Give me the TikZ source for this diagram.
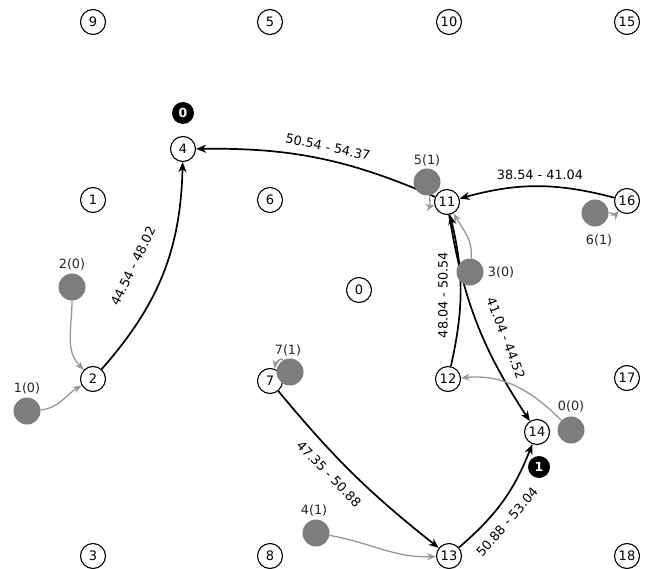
\documentclass[tikz,border=0pt]{standalone}
\usepackage{fontspec}
\setmainfont{DejaVu Sans}
\usetikzlibrary{arrows.meta}
\pgfdeclarelayer{bg}
\pgfsetlayers{bg,main}
\definecolor{agentgray}{RGB}{125,125,125}
\definecolor{arrowgray}{RGB}{150,150,150}
\tikzset{
  vnode/.style={circle, draw=black, line width=1.1pt, fill=white, minimum size=25pt, inner sep=0pt, font=\fontsize{13}{13}\selectfont},
  badge/.style={circle, fill=black, minimum size=22pt, inner sep=0pt, text=white, font=\bfseries\fontsize{12.5}{13}\selectfont},
  agent/.style={circle, fill=agentgray, minimum size=27pt, inner sep=0pt},
  alabel/.style={font=\fontsize{12.8}{13}\selectfont, text=black!85, inner sep=0pt},
  elabel/.style={font=\fontsize{12.8}{13}\selectfont, inner sep=1pt},
  edge/.style={line width=1.7pt, -{Stealth[length=10pt,width=8pt,inset=3pt]}},
  gedge/.style={draw=arrowgray, line width=1.3pt, -{Stealth[length=9pt,width=7pt,inset=3pt]}},
}
\begin{document}
\begin{tikzpicture}[x=1pt,y=1pt]
\useasboundingbox (0,0) rectangle (647,-569);
% grid vertices
\node[vnode] (n9)  at (93,-22)  {9};
\node[vnode] (n5)  at (270,-22) {5};
\node[vnode] (n10) at (449,-22) {10};
\node[vnode] (n15) at (627,-22) {15};
\node[vnode] (n4)  at (183,-149) {4};
\node[vnode] (n1)  at (93,-200) {1};
\node[vnode] (n6)  at (270,-200) {6};
\node[vnode] (n11) at (447,-202) {11};
\node[vnode] (n16) at (627,-201) {16};
\node[vnode] (n0)  at (359,-290) {0};
\node[vnode] (n2)  at (93,-379) {2};
\node[vnode] (n7)  at (270,-381) {7};
\node[vnode] (n12) at (448,-379) {12};
\node[vnode] (n17) at (627,-378) {17};
\node[vnode] (n14) at (537,-432) {14};
\node[vnode] (n3)  at (93,-556) {3};
\node[vnode] (n8)  at (270,-556) {8};
\node[vnode] (n13) at (449,-556) {13};
\node[vnode] (n18) at (627,-556) {18};
% agents
\node[agent] (d0) at (571,-430) {};
\node[agent] (d1) at (27,-411) {};
\node[agent] (d2) at (72,-287) {};
\node[agent] (d3) at (470,-272) {};
\node[agent] (d4) at (316,-533) {};
\node[agent] (d5) at (427,-182) {};
\node[agent] (d6) at (595,-213) {};
\node[agent] (d7) at (290,-372) {};
\node[alabel] (a0) at (571,-406) {0(0)};
\node[alabel] (a1) at (27,-388) {1(0)};
\node[alabel] (a2) at (72,-264) {2(0)};
\node[alabel] (a3) at (501,-272) {3(0)};
\node[alabel] (a4) at (314,-510) {4(1)};
\node[alabel] (a5) at (427,-160) {5(1)};
\node[alabel] (a6) at (599,-240) {6(1)};
\node[alabel] (a7) at (288,-350) {7(1)};
% badges
\node[badge] (b0) at (183,-113) {0};
\node[badge] (b1) at (539,-467) {1};
% edge labels
\node[elabel, rotate=64]  (l24)   at (133,-266) {44.54 - 48.02};
\node[elabel, rotate=-12] (l114)  at (328,-147) {50.54 - 54.37};
\node[elabel]             (l1611) at (540,-175) {38.54 - 41.04};
\node[elabel, rotate=90]  (l1211) at (443,-295) {48.04 - 50.54};
\node[elabel, rotate=-69] (l1114) at (506,-338) {41.04 - 44.52};
\node[elabel, rotate=-46] (l713)  at (329,-474) {47.35 - 50.88};
\node[elabel, rotate=49]  (l1314) at (507,-522) {50.88 - 53.04};
\begin{pgfonlayer}{bg}
\draw[edge] (n2) to[bend right=20] (n4);
\draw[edge] (n11) to[bend right=12] (n4);
\draw[edge] (n16) to[bend right=15] (n11);
\draw[edge] (n12) to[bend right=13] (n11);
\draw[edge] (n11) to[bend right=12] (n14);
\draw[edge] (n7) to[bend right=6] (n13);
\draw[edge] (n13) to[bend right=14] (n14);
\draw[gedge] (d2) to[out=-90, in=135] (n2);
\draw[gedge] (d1) to[out=5, in=210] (n2);
\draw[gedge] (d3) to[out=85, in=-60] (n11);
\draw[gedge] (d0) to[out=135, in=5] (n12);
\draw[gedge] (d4) to[out=-10, in=182] (n13);
\draw[gedge] (d5) to[out=-80, in=195] (n11);
\draw[gedge] (d6) to[out=0, in=230] (n16);
\draw[gedge] (d7.120) to[out=120, in=80] (n7.70);
\end{pgfonlayer}
\end{tikzpicture}
\end{document}
